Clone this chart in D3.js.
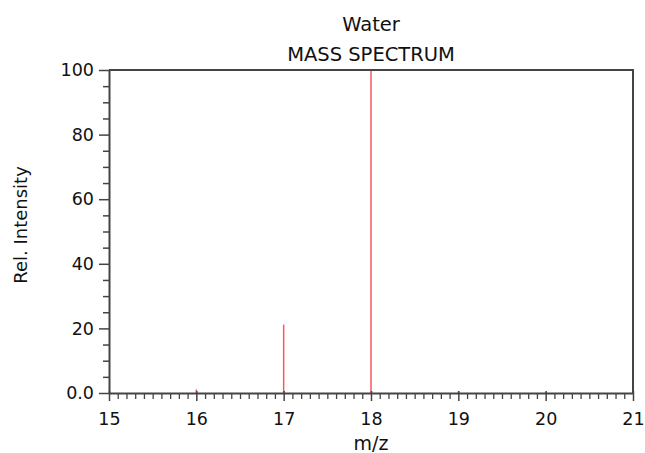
<!DOCTYPE html>
<html>
<head>
<meta charset="utf-8">
<script src="https://cdn.jsdelivr.net/npm/d3@7"></script>
<style>
  body { margin: 0; background: #fff; }
  text { font-family: "DejaVu Sans", sans-serif; fill: #111; }
</style>
</head>
<body>
<div id="chart"></div>
<script>
// peaks of the spectrum
const mz = [16, 17, 18, 19, 20];
const intensity = [1.1, 21.2, 100, 0.5, 0.3];

const xTicks = [15, 16, 17, 18, 19, 20, 21];
const yTicks = [0, 20, 40, 60, 80, 100];
const yTickLabels = ["0.0", "20", "40", "60", "80", "100"];

const titleLines = ["Water", "MASS SPECTRUM"];

const width = 645, height = 453;
const margin = {top: 70, right: 12, bottom: 60, left: 109};
const w = width - margin.left - margin.right,
      h = height - margin.top - margin.bottom;

const svg = d3.select("#chart").append("svg")
    .attr("width", width)
    .attr("height", height);

const g = svg.append("g")
    .attr("transform", "translate(" + margin.left + "," + margin.top + ")");

const x = d3.scaleLinear().domain([15, 21]).range([0, w]);
const y = d3.scaleLinear().domain([0, 100]).range([h, 0]);

const axisColor = "#444";

// peaks
g.selectAll(".peak")
  .data(mz.map((m, i) => ({m: m, v: intensity[i]})))
  .enter().append("line")
    .attr("class", "peak")
    .attr("x1", d => x(d.m))
    .attr("x2", d => x(d.m))
    .attr("y1", y(0))
    .attr("y2", d => y(d.v))
    .attr("stroke", "#f55a62")
    .attr("stroke-width", 1.5);

// minor x ticks
const xMinor = d3.range(150, 211).map(d => d / 10).filter(d => Math.abs(d - Math.round(d)) > 1e-6);
g.append("g")
    .attr("transform", `translate(0,${h + 1})`)
    .call(d3.axisBottom(x).tickValues(xMinor).tickSize(5).tickFormat(""))
    .call(a => a.select(".domain").remove())
    .call(a => a.selectAll("line").attr("stroke", axisColor).attr("stroke-width", 1.3));

// major x ticks
const xAxis = g.append("g")
    .attr("transform", `translate(0,${h})`)
    .call(d3.axisBottom(x).tickValues(xTicks).tickSize(8).tickSizeOuter(0).tickPadding(12).tickFormat(d3.format("d")));
xAxis.selectAll(".tick line").attr("y1", -2).attr("stroke", axisColor).attr("stroke-width", 1.5);
xAxis.select(".domain").attr("stroke", axisColor).attr("stroke-width", 2);
xAxis.selectAll("text").style("font-size", "17.5px").attr("fill", "#111");

// minor y ticks
const yMinor = d3.range(0, 101, 5).filter(d => d % 20 !== 0);
g.append("g")
    .call(d3.axisLeft(y).tickValues(yMinor).tickSize(6).tickFormat(""))
    .call(a => a.select(".domain").remove())
    .call(a => a.selectAll("line").attr("stroke", axisColor).attr("stroke-width", 1.5));

// major y ticks
const yAxis = g.append("g")
    .call(d3.axisLeft(y).tickValues(yTicks).tickSize(10).tickSizeOuter(0).tickPadding(5)
      .tickFormat((d, i) => yTickLabels[i]));
yAxis.selectAll(".tick line").attr("stroke", axisColor).attr("stroke-width", 1.5);
yAxis.select(".domain").attr("stroke", axisColor).attr("stroke-width", 2);
yAxis.selectAll("text").style("font-size", "17.5px").attr("fill", "#111");

// frame top and right
g.append("path")
    .attr("d", `M0,0H${w}V${h}`)
    .attr("fill", "none")
    .attr("stroke", axisColor)
    .attr("stroke-width", 2);

// titles
g.selectAll(".title")
  .data(titleLines)
  .enter().append("text")
    .attr("x", w / 2)
    .attr("y", (d, i) => -39 + i * 30)
    .attr("text-anchor", "middle")
    .style("font-size", "19.5px")
    .text(d => d);

// axis labels
svg.append("text")
    .attr("x", margin.left + w / 2)
    .attr("y", 450)
    .attr("text-anchor", "middle")
    .style("font-size", "19px")
    .text("m/z");

svg.append("text")
    .attr("transform", "translate(27,225) rotate(-90)")
    .attr("text-anchor", "middle")
    .style("font-size", "18px")
    .text("Rel. Intensity");
</script>
</body>
</html>
